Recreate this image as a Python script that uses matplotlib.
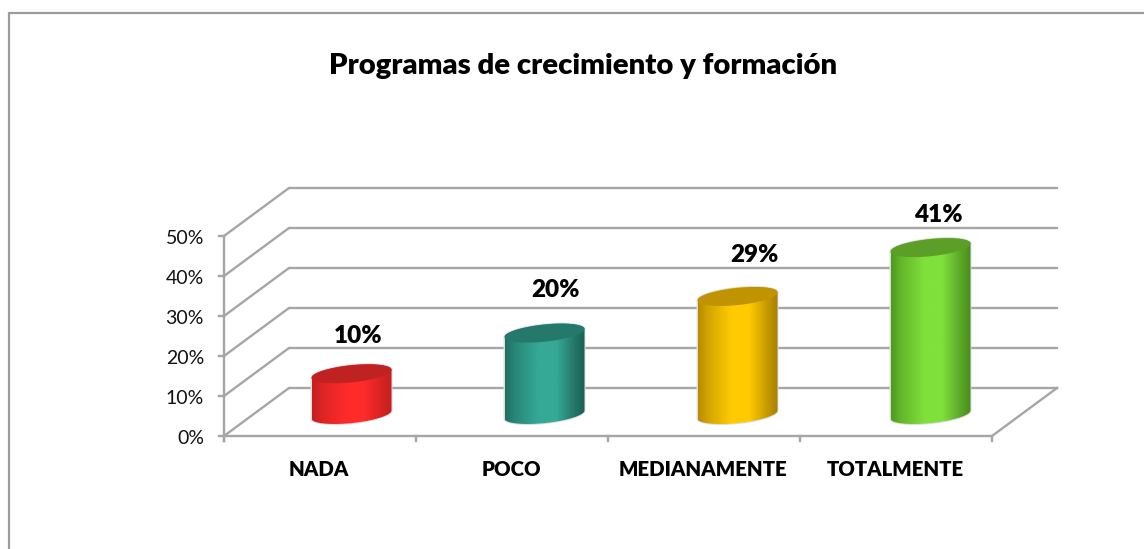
import numpy as np
import matplotlib
matplotlib.use("Agg")
import matplotlib.pyplot as plt
from matplotlib.colors import LinearSegmentedColormap, to_rgb
from matplotlib.patches import Polygon

title = "Programas de crecimiento y formación"
categories = ["NADA", "POCO", "MEDIANAMENTE", "TOTALMENTE"]
values = [10, 20, 29, 41]
value_labels = ["10%", "20%", "29%", "41%"]
y_ticks = [0, 10, 20, 30, 40, 50]
y_tick_labels = ["0%", "10%", "20%", "30%", "40%", "50%"]

body_edge_left = ["#c41f1f", "#1f6f62", "#b58a00", "#4f9a1e"]
body_centre = ["#ff2b2b", "#35a996", "#ffcb00", "#80e03c"]
body_edge_right = ["#c42020", "#1b5f54", "#a87f00", "#4a8c1c"]
top_colour = ["#c02222", "#25796c", "#c09400", "#5c9f28"]

GRID = "#a6a6a6"
FONT = "Lato"

# Layout of the pseudo-3D frame, in figure pixels
X0, X1 = 224, 992          # front floor edge
DX, DY = 65, 48            # depth offset
Y0, PX_PER_UNIT = 436, 4.0 # front axis origin and scale
BAR_SCALE = 4.07           # bar height per unit
BAR_BASE = 414.5           # centre of bar base ellipse
BAR_START, BAR_STEP = 351.5, 193
BAR_A, BAR_B, BAR_TILT = 40, 8.6, 4
LABEL_POS = [(358, 335), (556, 289), (754, 254), (938, 214)]

fig = plt.figure(figsize=(11.44, 5.49), dpi=100, facecolor="white")
ax = fig.add_axes([0, 0, 1, 1])
ax.set_xlim(0, 1144)
ax.set_ylim(549, 0)
ax.axis("off")


def vy(v):
    return Y0 - v * PX_PER_UNIT


def mix(a, b, f):
    a, b = np.array(to_rgb(a)), np.array(to_rgb(b))
    return tuple(a + (b - a) * f)


# outer chart frame
ax.plot([9, 9, 1144], [549, 13, 13], color="#9c9c9c", lw=1.6, zorder=1,
        solid_joinstyle="miter")

# side wall and back wall gridlines
for t, lab in zip(y_ticks, y_tick_labels):
    y = vy(t)
    ax.plot([X0, X0 + DX, X1 + DX], [y, y - DY, y - DY], color=GRID, lw=1.7, zorder=1,
            solid_joinstyle="miter")
    ax.plot([X0 - 5, X0], [y, y], color=GRID, lw=1.7, zorder=1)
    ax.text(204, y + 1.5, lab, ha="right", va="center_baseline", fontsize=14,
            family=FONT, color="#111111")

# extra back wall top and floor
ax.plot([X0, X0], [vy(0) + 5, vy(y_ticks[-1])], color=GRID, lw=1.7, zorder=1)
ax.plot([X0, X1, X1 + DX], [Y0, Y0, Y0 - DY], color=GRID, lw=1.7, zorder=1,
        solid_joinstyle="miter")

step = (X1 - X0) / len(categories)
for i in range(len(categories) + 1):
    x = X0 + i * step
    ax.plot([x, x], [Y0, Y0 + 5], color=GRID, lw=1.7, zorder=1)

t_par = np.linspace(0, 2 * np.pi, 200)


def ellipse(cx, cy, t):
    return cx + BAR_A * np.cos(t), cy - BAR_TILT * np.cos(t) + BAR_B * np.sin(t)


for i, (cat, val) in enumerate(zip(categories, values)):
    cat_x = X0 + (i + 0.5) * step
    ax.text(cat_x - 1, 470, cat, ha="center", va="center", fontsize=14.7,
            fontweight=800, family=FONT, color="#000000")

    cx = BAR_START + i * BAR_STEP
    top_y = BAR_BASE - val * BAR_SCALE

    # silhouette = top half of the top ellipse + bottom half of the base ellipse
    t_up = np.linspace(np.pi, 2 * np.pi, 100)
    t_dn = np.linspace(0, np.pi, 100)
    xu, yu = ellipse(cx, top_y, t_up)
    xd, yd = ellipse(cx, BAR_BASE, t_dn)
    verts = np.column_stack([np.r_[xu, xd], np.r_[yu, yd]])

    # faint soft edge
    ax.add_patch(Polygon(verts, closed=True, fc="none", ec="#dddddd", lw=1.4, zorder=2))

    cmap = LinearSegmentedColormap.from_list(
        f"c{i}",
        [(0, body_edge_left[i]), (0.12, mix(body_edge_left[i], body_centre[i], 0.4)),
         (0.42, body_centre[i]), (0.64, body_centre[i]),
         (0.88, mix(body_edge_right[i], body_centre[i], 0.3)), (1, body_edge_right[i])],
    )
    grad = np.linspace(0, 1, 256)[None, :]
    im = ax.imshow(grad, cmap=cmap, aspect="auto", zorder=3, interpolation="bilinear",
                   extent=[cx - BAR_A, cx + BAR_A, yd.max() + 2, yu.min() - 2])
    clip = Polygon(verts, closed=True, transform=ax.transData)
    im.set_clip_path(clip)

    xt, yt = ellipse(cx, top_y, t_par)
    ax.fill(xt, yt, color=top_colour[i], lw=0, zorder=4)

    lx, ly = LABEL_POS[i]
    ax.text(lx, ly + 1, value_labels[i], ha="center", va="center", fontsize=17.5,
            fontweight=800, family=FONT, color="#000000", zorder=5)

ax.set_xlim(0, 1144)
ax.set_ylim(549, 0)

ax.text(583, 66, title, ha="center", va="center", fontsize=21.1, fontweight=800,
        family=FONT, color="#000000")

fig.savefig("out.png", dpi=100, facecolor="white")
